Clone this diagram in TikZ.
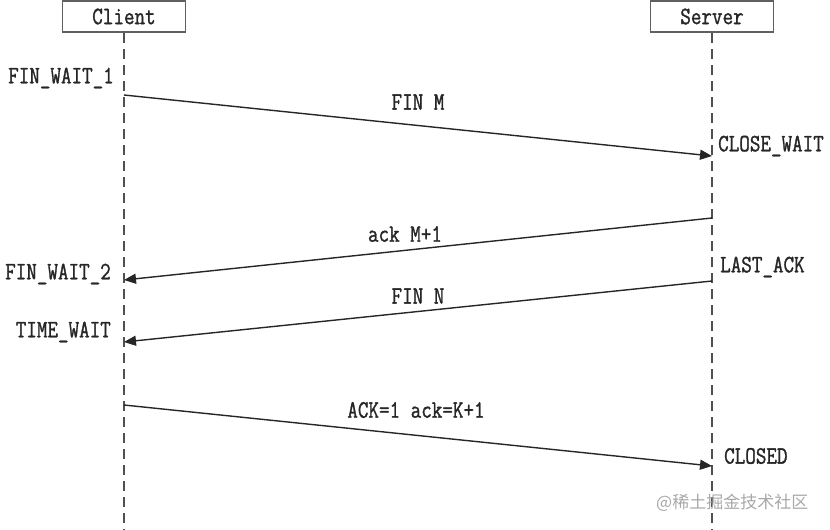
\documentclass[tikz,border=0pt]{standalone}
\usepackage{fontspec}
\setmainfont{Latin Modern Mono}[FakeStretch=0.82, FakeBold=1.2]
\newfontfamily\cjk{Noto Sans CJK SC}
\usetikzlibrary{arrows.meta}
\definecolor{ink}{HTML}{262626}
\definecolor{boxc}{HTML}{606060}
\definecolor{lifec}{HTML}{505050}
\definecolor{wm}{HTML}{A8A8A8}
\tikzset{
  txt/.style={font=\fontsize{25}{25}\selectfont, text=ink, inner sep=0pt},
  actor/.style={txt, draw=boxc, line width=1.5pt, fill=white, minimum width=123pt, minimum height=31pt},
  lifeline/.style={draw=lifec, line width=1.8pt, dash pattern=on 10pt off 6pt},
  msg/.style={draw=ink, line width=1.4pt, -{Triangle[length=12pt,width=10pt]}},
  lbl/.style={txt},
  state/.style={txt},
}
\begin{document}
\begin{tikzpicture}[x=1pt,y=-1pt]
\useasboundingbox (0,0) rectangle (830,530);
% lifelines
\coordinate (cltop) at (124,33);
\coordinate (clbot) at (124,530);
\coordinate (svtop) at (712,33);
\coordinate (svbot) at (712,530);
\draw[lifeline] (cltop) -- (clbot);
\draw[lifeline] (svtop) -- (svbot);
\node[actor] (client) at (124,16.5) {Client};
\node[actor] (server) at (712,16.5) {Server};
% message points
\coordinate (c1) at (124,95);
\coordinate (s1) at (712,156);
\coordinate (s2) at (712,218);
\coordinate (c2) at (124,280);
\coordinate (s3) at (712,281);
\coordinate (c3) at (124,342);
\coordinate (c4) at (124,405);
\coordinate (s4) at (712,466);
\draw[msg] (c1) -- (s1);
\draw[msg] (s2) -- (c2);
\draw[msg] (s3) -- (c3);
\draw[msg] (c4) -- (s4);
% message labels
\node[lbl] (l1) at (418,102) {FIN M};
\node[lbl] (l2) at (405,234) {ack M+1};
\node[lbl] (l3) at (418,296) {FIN N};
\node[lbl] (l4) at (416,410) {ACK=1 ack=K+1};
% states
\node[state, anchor=east] (fw1) at (114,78) {FIN\_WAIT\_1};
\node[state, anchor=east] (fw2) at (111,274) {FIN\_WAIT\_2};
\node[state, anchor=east] (tw) at (111,332) {TIME\_WAIT};
\node[state, anchor=west] (cw) at (718,146) {CLOSE\_WAIT};
\node[state, anchor=west] (la) at (720,267) {LAST\_ACK};
\node[state, anchor=west] (cd) at (724,456) {CLOSED};
% watermark
\node[font=\cjk\fontsize{17}{17}\selectfont, text=wm, anchor=west, inner sep=0pt] (wmk) at (656,503) {@稀土掘金技术社区};
\end{tikzpicture}
\end{document}
